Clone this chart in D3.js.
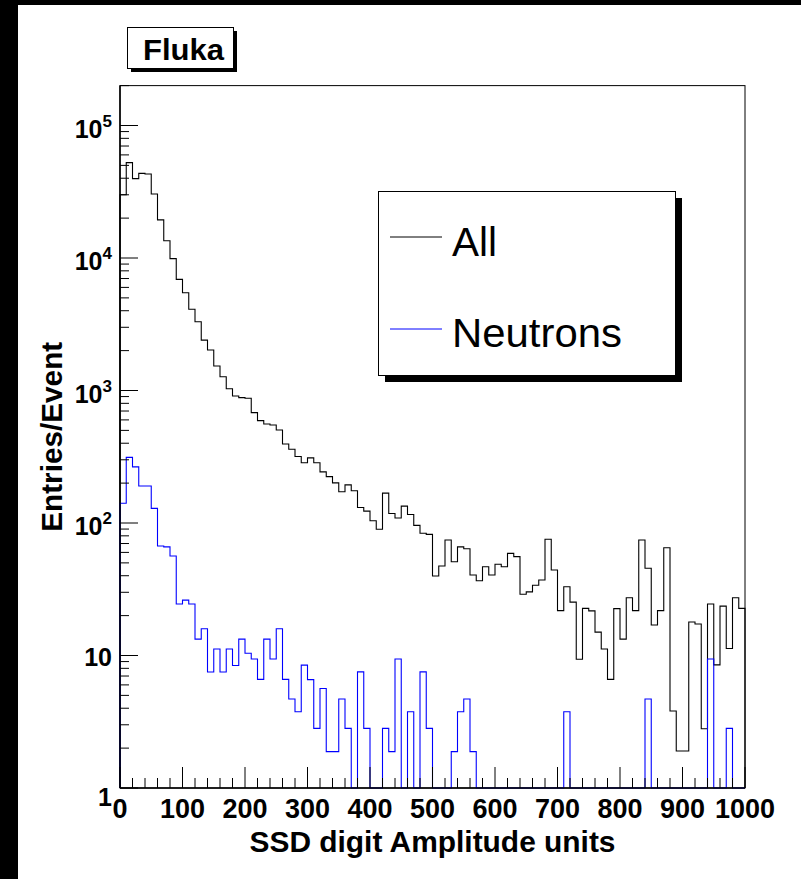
<!DOCTYPE html>
<html>
<head>
<meta charset="utf-8">
<script src="https://cdn.jsdelivr.net/npm/d3@7"></script>
<style>
  html, body { margin: 0; padding: 0; background: #fff; }
  svg { display: block; }
  text { font-family: "Liberation Sans", Arial, Helvetica, sans-serif; }
</style>
</head>
<body>
<svg id="chart" width="801" height="879"></svg>
<script>
// ---------------- data ----------------
const binWidth = 10;
const xMin = 0, xMax = 1000;
const yMin = 1, yMax = 2e5;

// Entries/Event per bin (100 bins of width 10), "All"
const allValues = [
  30000, 52500, 39700, 43500, 43000, 30400, 19400, 13500, 9900, 6900,
  5470, 4100, 3300, 2400, 2020, 1530, 1270, 1030, 908, 883,
  873, 681, 592, 558, 549, 504, 395, 360, 318, 285,
  310, 285, 243, 224, 201, 172, 194, 175, 131, 123,
  104, 89.6, 168, 118, 109, 134, 116, 96, 83.6, 82,
  39.8, 47.4, 74.5, 51, 66, 64, 40.5, 36.7, 46.8, 40.5,
  48.8, 46.8, 59, 55.7, 29, 30.2, 33.9, 37.1, 75.3, 44.2,
  21.8, 33, 25.3, 9.36, 22.7, 21.7, 15, 11.2, 6.6, 22.6,
  13.3, 27.3, 21.8, 74.5, 45.5, 17, 21.8, 65, 3.81, 1.9,
  1.9, 17.9, 17.3, 2.8, 24.5, 8.5, 23.6, 11.3, 27.3, 22.7
];

// "Neutrons"
const neutronValues = [
  141, 313, 265, 190, 190, 129, 67, 66, 56.4, 24.5,
  26.2, 24.5, 13.3, 15.9, 7.5, 11.2, 7.5, 11.2, 8.4, 13.3,
  10.4, 9.4, 6.6, 13.3, 9.4, 15.9, 6.6, 4.7, 3.76, 8.46,
  6.58, 2.82, 5.64, 1.88, 1.88, 4.7, 2.82, 0, 7.52, 2.82,
  0, 0, 2.82, 1.88, 9.4, 0, 3.76, 0, 7.52, 2.82,
  0, 0, 0, 1.88, 3.76, 4.7, 1.88, 0, 0, 0,
  0, 0, 0, 0, 0, 0, 0, 0, 0, 0,
  0, 3.76, 0, 0, 0, 0, 0, 0, 0, 0,
  0, 0, 0, 0, 4.7, 0, 0, 0, 0, 0,
  0, 0, 0, 0, 9.4, 0, 0, 2.82, 0, 0
];

const xTickValues = [0, 100, 200, 300, 400, 500, 600, 700, 800, 900, 1000];
const yDecades = [0, 1, 2, 3, 4, 5];
const seriesNames = ["All", "Neutrons"];
const seriesColors = ["#000000", "#0000ff"];
const xTitle = "SSD digit Amplitude units";
const yTitle = "Entries/Event";
const boxTitle = "Fluka";

// ---------------- layout ----------------
const svg = d3.select("#chart");
const L = 120, R = 745, B = 788;
const x = d3.scaleLinear().domain([xMin, xMax]).range([L, R]);
const y = d3.scaleLog().domain([yMin, yMax]).range([B, B - 132.5 * Math.log10(yMax)]);
const T = y(yMax);

// black borders of the canvas
svg.append("rect").attr("x", 0).attr("y", 0).attr("width", 18).attr("height", 879).attr("fill", "#000");
svg.append("rect").attr("x", 0).attr("y", 0).attr("width", 801).attr("height", 5).attr("fill", "#000");

// frame
svg.append("rect").attr("x", L).attr("y", T).attr("width", R - L).attr("height", B - T)
  .attr("fill", "#fff").attr("stroke", "#000").attr("stroke-width", 1);

// histograms
function stepPath(vals) {
  const yy = v => y(Math.max(v, yMin));
  let p = "M" + x(xMin) + "," + B;
  vals.forEach((v, i) => {
    const x0 = x(xMin + i * binWidth), x1 = x(xMin + (i + 1) * binWidth);
    p += "L" + x0 + "," + yy(v) + "L" + x1 + "," + yy(v);
  });
  p += "L" + x(xMax) + "," + B;
  return p;
}
const g = svg.append("g");
[allValues, neutronValues].forEach((vals, k) => {
  g.append("path").attr("d", stepPath(vals)).attr("fill", "none")
    .attr("stroke", seriesColors[k]).attr("stroke-width", 1.1);
});

// x axis ticks (inward)
const ax = svg.append("g");
for (let v = xMin; v <= xMax; v += 20) {
  const major = v % 100 === 0;
  ax.append("line").attr("x1", x(v)).attr("x2", x(v)).attr("y1", B).attr("y2", B - (major ? 21 : 10))
    .attr("stroke", "#000").attr("stroke-width", 1);
}
// y axis ticks (inward)
yDecades.forEach(e => {
  for (let k = 1; k <= 9; k++) {
    const v = k * Math.pow(10, e);
    if (v > yMax) break;
    ax.append("line").attr("x1", L).attr("x2", L + (k === 1 ? 18 : 9)).attr("y1", y(v)).attr("y2", y(v))
      .attr("stroke", "#000").attr("stroke-width", 1);
  }
});
// axis lines drawn over
svg.append("line").attr("x1", L).attr("x2", R).attr("y1", B).attr("y2", B).attr("stroke", "#000").attr("stroke-width", 1.5);
svg.append("line").attr("x1", L).attr("x2", L).attr("y1", T).attr("y2", B).attr("stroke", "#000").attr("stroke-width", 1.5);

// x tick labels
xTickValues.forEach(v => {
  svg.append("text").attr("x", x(v)).attr("y", 818).attr("text-anchor", "middle")
    .attr("font-size", 27).attr("font-weight", "bold").text(v);
});
// y tick labels
yDecades.forEach(e => {
  const t = svg.append("text").attr("x", 112).attr("text-anchor", "end")
    .attr("font-weight", "bold").attr("font-size", 25);
  if (e === 0) {
    t.attr("y", 806).text("1");
  } else if (e === 1) {
    t.attr("y", y(10) + 10).text("10");
  } else {
    t.attr("y", y(Math.pow(10, e)) + 12);
    t.append("tspan").text("10");
    t.append("tspan").attr("dy", -11).attr("font-size", 17).text(e);
  }
});

// axis titles (centred on their axes)
svg.append("text").attr("x", (L + R) / 2).attr("y", 852).attr("text-anchor", "middle")
  .attr("font-size", 30).attr("font-weight", "bold")
  .attr("textLength", 366).attr("lengthAdjust", "spacingAndGlyphs").text(xTitle);
svg.append("text").attr("transform", `translate(62,${(T + B) / 2}) rotate(-90)`).attr("text-anchor", "middle")
  .attr("font-size", 30).attr("font-weight", "bold")
  .attr("textLength", 190).attr("lengthAdjust", "spacingAndGlyphs").text(yTitle);

// title box
svg.append("rect").attr("x", 131).attr("y", 31).attr("width", 106).attr("height", 41).attr("fill", "#000");
svg.append("rect").attr("x", 127.5).attr("y", 27.5).attr("width", 106).attr("height", 41)
  .attr("fill", "#fff").attr("stroke", "#000").attr("stroke-width", 1);
svg.append("text").attr("x", 183.5).attr("y", 60).attr("text-anchor", "middle")
  .attr("font-size", 30).attr("font-weight", "bold")
  .attr("textLength", 81).attr("lengthAdjust", "spacingAndGlyphs").text(boxTitle);

// legend
const lg = svg.append("g");
lg.append("rect").attr("x", 385).attr("y", 198).attr("width", 297).attr("height", 184).attr("fill", "#000");
lg.append("rect").attr("x", 378.5).attr("y", 191.5).attr("width", 297).attr("height", 184)
  .attr("fill", "#fff").attr("stroke", "#000").attr("stroke-width", 1);
const legendY = [237, 329];
const legendLen = [45, 170];
seriesNames.forEach((name, i) => {
  lg.append("line").attr("x1", 390).attr("x2", 442).attr("y1", legendY[i]).attr("y2", legendY[i])
    .attr("stroke", seriesColors[i]).attr("stroke-width", 1);
  lg.append("text").attr("x", 452).attr("y", legendY[i] + 19 - (i === 0 ? 0 : 1))
    .attr("font-size", 41).attr("textLength", legendLen[i]).attr("lengthAdjust", "spacingAndGlyphs")
    .text(name);
});
</script>
</body>
</html>
